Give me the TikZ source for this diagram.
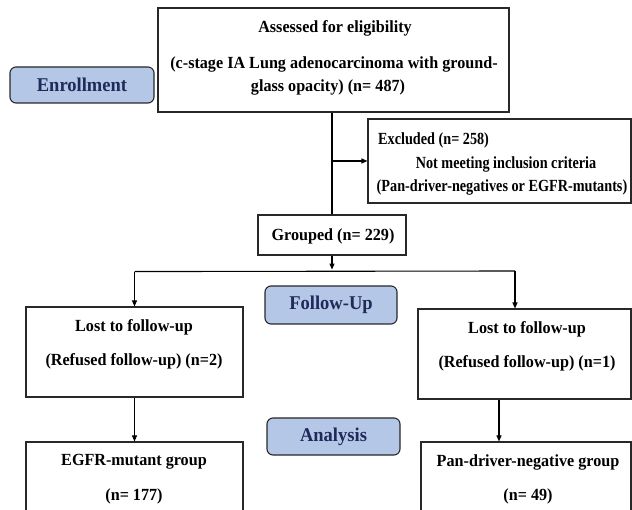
\documentclass[tikz,border=0pt]{standalone}
\usepackage{fontspec}
\setmainfont{Liberation Serif}[FakeStretch=0.95]
\usetikzlibrary{arrows.meta,calc}
\definecolor{lblfill}{RGB}{180,199,231}
\definecolor{lbltext}{RGB}{31,42,90}
\definecolor{edge}{RGB}{40,40,40}
\newcommand{\narrowtxt}[1]{\scalebox{0.88}[1]{#1}}
\tikzset{
  box/.style={draw=edge,line width=1.1pt,inner sep=0pt,fill=white},
  lbl/.style={draw=edge,line width=1.1pt,fill=lblfill,rounded corners=6pt,inner sep=0pt,
    text=lbltext,font=\fontsize{19.5}{22}\selectfont\bfseries},
  txt/.style={inner sep=0pt,font=\fontsize{17}{20}\selectfont\bfseries},
  conn/.style={draw=black,line width=1.1pt},
  arr/.style={conn,-{Triangle[length=6pt,width=5pt]}}
}
\begin{document}
\begin{tikzpicture}[x=1pt,y=-1pt]
\clip (0,0) rectangle (632,510);
\fill[white] (0,0) rectangle (632,510);
% boxes
\node[box,minimum width=351pt,minimum height=104pt] (top) at (333.5,60) {};
\node[lbl,minimum width=144pt,minimum height=36pt] (enr) at (82,85) {Enrollment};
\node[box,minimum width=263pt,minimum height=84pt] (excl) at (499.5,161) {};
\node[box,minimum width=148pt,minimum height=40pt] (grp) at (332,235) {};
\node[lbl,minimum width=132pt,minimum height=38pt] (fup) at (331,305) {Follow-Up};
\node[box,minimum width=217pt,minimum height=90pt] (lostL) at (134.5,352) {};
\node[box,minimum width=213pt,minimum height=90pt] (lostR) at (524.5,354) {};
\node[lbl,minimum width=133pt,minimum height=37pt] (ana) at (333.5,436.5) {Analysis};
\node[box,minimum width=217pt,minimum height=88pt] (botL) at (134.5,486) {};
\node[box,minimum width=210pt,minimum height=88pt] (botR) at (526,486) {};
% texts
\node[txt] (t1) at (335,28) {Assessed for eligibility};
\node[txt] (t2) at (334,64) {(c-stage IA Lung adenocarcinoma with ground-};
\node[txt] (t3) at (328,87) {glass opacity) (n= 487)};
\node[txt,anchor=west] (e1) at (378,140) {\narrowtxt{Excluded (n= 258)}};
\node[txt] (e2) at (506,164) {\narrowtxt{Not meeting inclusion criteria}};
\node[txt] (e3) at (502,187) {\narrowtxt{(Pan-driver-negatives or EGFR-mutants)}};
\node[txt] (g1) at (333,236) {Grouped (n= 229)};
\node[txt] (l1) at (134,327) {Lost to follow-up};
\node[txt] (l2) at (134,361) {(Refused follow-up) (n=2)};
\node[txt] (r1) at (527,329) {Lost to follow-up};
\node[txt] (r2) at (527,363) {(Refused follow-up) (n=1)};
\node[txt] (b1) at (134,462) {EGFR-mutant group};
\node[txt] (b2) at (134,496) {(n= 177)};
\node[txt] (c1) at (528,462) {Pan-driver-negative group};
\node[txt] (c2) at (528,496) {(n= 49)};
% connectors
\draw[conn] (top.south -| grp.north) -- (grp.north);
\draw[arr] (excl.west -| grp.north) -- (excl.west);
\coordinate (split) at ($(grp.south)+(0,16)$);
\coordinate (rb) at (515,271);
\draw[arr] (grp.south) -- ($(grp.south)+(0,14)$);
\draw[conn] (lostL.north |- split) -- (rb);
\draw[arr] (lostL.north |- split) -- (lostL.north);
\draw[arr] (rb) -- (rb |- lostR.north);
\draw[arr] (lostL.south) -- (botL.north);
\coordinate (rd) at ($(lostR.south)+(-25.5,0)$);
\draw[arr] (rd) -- (rd |- botR.north);
\end{tikzpicture}
\end{document}
